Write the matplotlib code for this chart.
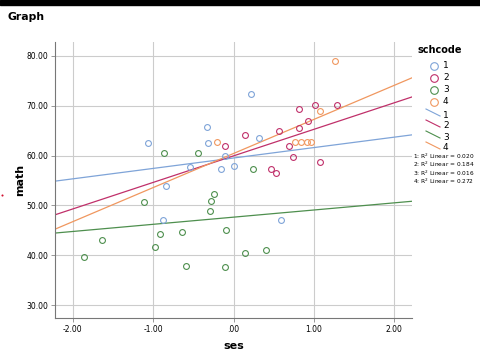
import numpy as np
import matplotlib
matplotlib.use('Agg')
import matplotlib.pyplot as plt
from matplotlib.lines import Line2D
from matplotlib.patches import Rectangle

# school 1
ses_1 = [-1.06, -0.33, -0.32, 0.22, 0.32, -0.10, -0.54, -0.16, 0.00, -0.84, -0.88, 0.59]
math_1 = [62.5, 65.8, 62.6, 72.4, 63.6, 59.9, 57.7, 57.3, 57.9, 53.9, 47.0, 47.1]
# school 2
ses_2 = [-0.10, 0.14, 1.01, 1.29, 0.82, 0.93, 0.56, 0.81, 0.69, 0.74, 1.07, 0.47, 0.53]
math_2 = [61.9, 64.1, 70.1, 70.1, 69.3, 66.9, 64.9, 65.5, 61.9, 59.7, 58.8, 57.3, 56.5]
# school 3
ses_3 = [-0.86, -0.44, 0.24, -1.11, -0.24, -0.28, -0.29, -1.64, -0.91, -0.64, -0.09,
         -1.86, -0.98, -0.59, -0.11, 0.14, 0.41]
math_3 = [60.6, 60.6, 57.3, 50.7, 52.3, 50.9, 48.8, 43.0, 44.2, 44.7, 45.0,
          39.7, 41.7, 37.9, 37.7, 40.4, 41.1]
# school 4
ses_4 = [-0.20, 0.77, 0.84, 0.91, 0.97, 1.07, 1.26]
math_4 = [62.7, 62.7, 62.7, 62.7, 62.7, 69.0, 78.9]

schools = ['1', '2', '3', '4']
r2_text = ['0.020', '0.184', '0.016', '0.272']
colors = ['#7fa4d8', '#c0306a', '#4e8f4e', '#f0975f']

xs = [ses_1, ses_2, ses_3, ses_4]
ys = [math_1, math_2, math_3, math_4]

fig = plt.figure(figsize=(4.8, 3.6), dpi=100)
ax = fig.add_axes([55/480, 1-318/360, (412-55)/480, (318-42)/360])

xmin, xmax = -2.22, 2.22
for x, y, c in zip(xs, ys, colors):
    ax.plot(x, y, 'o', mfc='none', mec=c, ms=4.2, mew=0.8, zorder=3)
# linear fit per school
for x, y, c in zip(xs, ys, colors):
    b, a = np.polyfit(x, y, 1)
    xx = np.array([xmin, xmax])
    ax.plot(xx, a + b*xx, color=c, lw=0.9, zorder=2)

ax.set_xlim(xmin, xmax)
ax.set_ylim(27.4, 82.8)
ax.set_xticks([-2, -1, 0, 1, 2])
ax.set_xticklabels(['-2.00', '-1.00', '.00', '1.00', '2.00'])
ax.set_yticks([30, 40, 50, 60, 70, 80])
ax.set_yticklabels(['30.00', '40.00', '50.00', '60.00', '70.00', '80.00'])
ax.tick_params(labelsize=5.5, length=3, color='#888888', width=0.6, pad=2)
ax.grid(True, color='#cccccc', lw=0.8)
ax.set_axisbelow(True)
for s in ['top', 'right']:
    ax.spines[s].set_visible(False)
for s in ['left', 'bottom']:
    ax.spines[s].set_color('#777777')
    ax.spines[s].set_linewidth(0.8)

ax.set_xlabel('ses', fontsize=8, fontweight='bold', labelpad=5)
ax.set_ylabel('math', fontsize=8, fontweight='bold', labelpad=1)

fig.text(8/480, 1-17/360, 'Graph', fontsize=7.8, fontweight='bold', va='center')
fig.patches.append(Rectangle((0, 1-5/360), 1, 5/360, transform=fig.transFigure,
                             color='black', figure=fig))
fig.add_artist(Line2D([2/480], [1-195/360], marker='o', ms=1.5, color='#d01030',
                      mec='none', transform=fig.transFigure))

# legend
fig.text(418/480, 1-50/360, 'schcode', fontsize=7, fontweight='bold', va='center')
leg_y = [66, 78, 90, 102]
for i, (lab, c) in enumerate(zip(schools, colors)):
    yy = 1 - leg_y[i]/360
    fig.add_artist(Line2D([434/480], [yy], marker='o', mfc='none', mec=c, ms=5.5,
                          mew=0.8, transform=fig.transFigure))
    fig.text(443/480, yy, lab, fontsize=6.5, va='center')
line_y = [113, 124, 135, 146]
for i, (lab, c) in enumerate(zip(schools, colors)):
    yy = 1 - line_y[i]/360
    fig.add_artist(Line2D([426/480, 440/480], [yy + 4/360, yy - 3/360], color=c, lw=0.8,
                          transform=fig.transFigure))
    fig.text(443/480, yy - 2/360, lab, fontsize=6.5, va='center')
r2_y = [156, 164.5, 173, 181.5]
for i, lab in enumerate(schools):
    fig.text(413/480, 1 - r2_y[i]/360, lab + ': R$^2$ Linear = ' + r2_text[i],
             fontsize=4.2, va='center')

fig.savefig('out.png', dpi=100)
